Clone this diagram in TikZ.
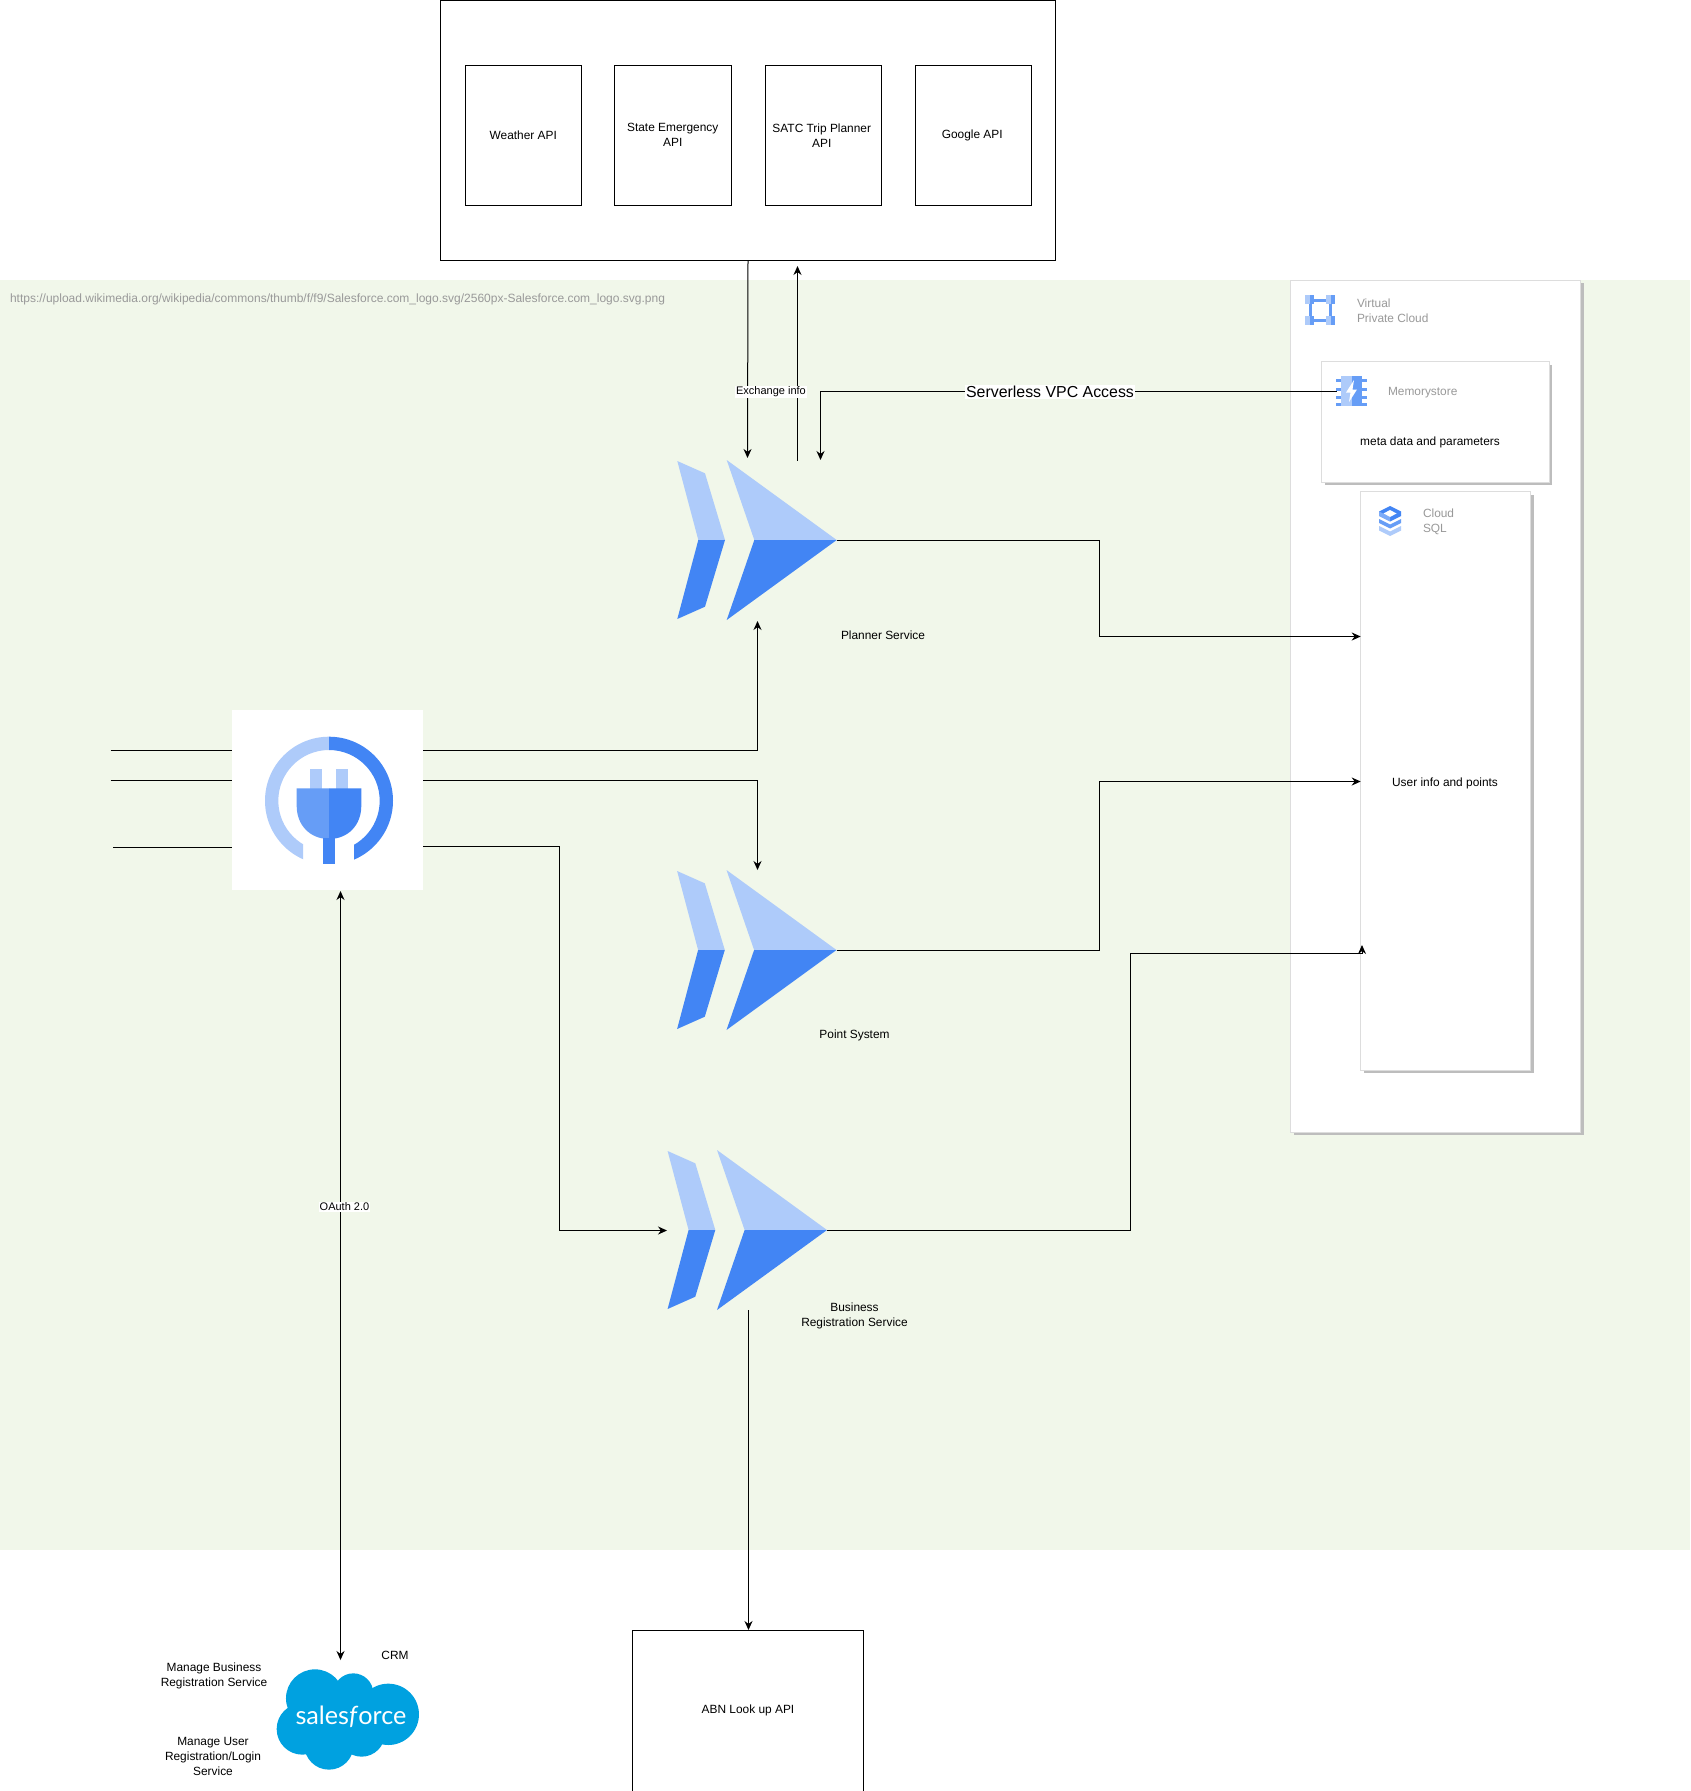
\documentclass[tikz,border=0pt]{standalone}
\usepackage{fontspec}
\setmainfont{Liberation Sans}
\newfontfamily\sflogo{Lato}
\usetikzlibrary{arrows.meta,calc}
\definecolor{bggreen}{HTML}{F1F7EA}
\definecolor{gblue}{HTML}{4285F4}
\definecolor{gmid}{HTML}{669DF6}
\definecolor{glight}{HTML}{AECBFA}
\definecolor{sfblue}{HTML}{00A1E0}
\definecolor{cardline}{HTML}{DDDDDD}
\definecolor{cardshadow}{HTML}{BDBDBD}
\definecolor{greytext}{HTML}{999999}
\tikzset{
  every node/.style={outer sep=0pt},
  txt/.style={font=\fontsize{11.9}{15}\selectfont,text=black,align=center,inner sep=0pt},
  gtxt/.style={font=\fontsize{11.9}{15}\selectfont,text=greytext,align=left,inner sep=0pt,anchor=west},
  box/.style={draw=black,line width=1pt,fill=none,font=\fontsize{11.9}{15}\selectfont,align=center,inner sep=2pt},
  conn/.style={draw=black,line width=1pt},
  tip/.style={-{Stealth[length=9pt,width=8pt]}},
  bothtip/.style={{Stealth[length=9pt,width=8pt]}-{Stealth[length=9pt,width=8pt]}},
  tag/.style={fill=bggreen,inner sep=1pt},
  whitetag/.style={fill=white,inner sep=1pt},
  svc/.style={minimum width=160pt,minimum height=160pt,inner sep=0pt,draw=none},
}
% box drawn by its corners: name, x1, y1, x2, y2, text
\newcommand{\cardbox}[5]{%
  \fill[cardshadow] (#2+3,#3+3) rectangle (#4+3,#5+3);
  \node[draw=cardline,line width=1pt,fill=white,inner sep=0pt,anchor=north west,
        minimum width=#4pt-#2pt,minimum height=#5pt-#3pt] (#1) at (#2,#3) {};
}
% cloud-run style mark with tip at (#2,#3)
\newcommand{\runmark}[3]{%
  \begin{scope}[shift={(#2,#3)}]
    \fill[glight] (-159.4,-79) -- (-131.7,-66.7) -- (-111.7,0) -- (-138.4,0) -- cycle;
    \fill[gblue] (-159.4,79) -- (-131.7,66.7) -- (-111.7,0) -- (-138.4,0) -- cycle;
    \fill[glight] (-110,-80) -- (0,0) -- (-82.4,0) -- cycle;
    \fill[gblue] (-110,80) -- (0,0) -- (-82.4,0) -- cycle;
    \node[svc,anchor=east] (#1) at (0,0) {};
  \end{scope}
}
\begin{document}
\begin{tikzpicture}[x=1pt,y=-1pt]
\useasboundingbox (0,0) rectangle (1690,1791);
\fill[white] (0,0) rectangle (1690,1791);
\fill[bggreen] (0,280) rectangle (1690,1550);
\node[anchor=west,inner sep=0pt,text=greytext,font=\fontsize{12}{15}\selectfont] (urltext) at (10,299.8)
  {https://upload.wikimedia.org/wikipedia/commons/thumb/f/f9/Salesforce.com\_logo.svg/2560px-Salesforce.com\_logo.svg.png};

% top group
\node[box,anchor=north west,minimum width=615.5pt,minimum height=260pt] (apis) at (440,0) {};
\node[box,anchor=north west,minimum width=116.5pt,minimum height=140.5pt] (weather) at (465,65) {Weather API};
\node[box,anchor=north west,minimum width=116.5pt,minimum height=140.5pt] (state) at (614.5,65) {State Emergency\\API};
\node[box,anchor=north west,minimum width=116.5pt,minimum height=140.5pt] (satc) at (765,65) {SATC Trip Planner\hspace*{3pt}\\API\hspace*{3pt}};
\node[box,anchor=north west,minimum width=116.5pt,minimum height=140.5pt] (google) at (915,65) {Google API\hspace*{2pt}};

% VPC cards
\cardbox{vpc}{1290.7}{280}{1580.7}{1132}
\cardbox{mem}{1321.7}{361.7}{1549}{482.3}
\cardbox{sql}{1360.7}{491.7}{1530.5}{1070}

% VPC icon
\begin{scope}[shift={(1305,295)}]
  \fill[gmid] (6,3.5) rectangle (24,6.5);
  \fill[gmid] (6,23.5) rectangle (24,26.5);
  \fill[gmid] (3.5,6) rectangle (6.5,24);
  \fill[gmid] (23.5,6) rectangle (26.5,24);
  \foreach \px/\py in {0/0,21/0,0/21,21/21}{
    \fill[glight] (\px,\py) rectangle ++(4.5,9);
    \fill[gmid] (\px+4.5,\py) rectangle ++(4.5,9);
  }
\end{scope}
\node[gtxt] (vpctext) at (1357,310.5) {Virtual\\Private Cloud};

% Memorystore icon
\begin{scope}[shift={(1336,376)}]
  \foreach \py in {3,11.5,20,27}{
    \fill[gmid] (0,\py) rectangle ++(5,3);
    \fill[gmid] (26,\py) rectangle ++(5,3);
  }
  \fill[glight] (5,0) rectangle (15.5,30);
  \fill[gmid] (15.5,0) rectangle (26,30);
  \fill[white] (18,4) -- (10,16.5) -- (14.5,16.5) -- (13,26) -- (21,13.5) -- (16.5,13.5) -- cycle;
\end{scope}
\node[gtxt] (memtext) at (1388,392.5) {Memorystore};
\node[txt] (metatext) at (1430,442) {meta data and parameters};

% SQL icon
\begin{scope}[shift={(1379,506)}]
  \fill[gblue] (11,0) -- (22,5.5) -- (22,10) -- (11,15.5) -- (0,10) -- (0,5.5) -- cycle;
  \fill[white] (11,4) -- (17.5,7.5) -- (11,11) -- (4.5,7.5) -- cycle;
  \fill[gmid] (0,13) -- (11,18.5) -- (22,13) -- (22,17) -- (11,22.5) -- (0,17) -- cycle;
  \fill[glight] (0,20) -- (11,25.5) -- (22,20) -- (22,24.5) -- (11,30) -- (0,24.5) -- cycle;
  \fill[glight,opacity=.55] (0,5.5) -- (11,11) -- (11,15.5) -- (0,10) -- cycle;
\end{scope}
\node[gtxt] (sqltext) at (1423,522) {Cloud\\SQL};
\node[txt] (usertext) at (1445,783) {User info and points};

% services
\runmark{planner}{836.7}{540}
\runmark{points}{836.5}{950}
\runmark{business}{827}{1230}
\node[txt] (plannerlabel) at (883,635.5) {Planner Service};
\node[txt] (pointslabel) at (854.5,1035.5) {Point System};
\node[txt] (businesslabel) at (854.5,1316) {Business\\Registration Service};

% API gateway
\node[fill=white,inner sep=0pt,anchor=north west,minimum width=191pt,minimum height=180pt] (gateway) at (232,710) {};
\begin{scope}
  \clip (260,730) -- (329,730) -- (329,800) -- (303,800) -- (303,875) -- (260,875) -- cycle;
  \fill[glight,even odd rule] (329,800.7) circle (64) (329,800.7) circle (50.7);
\end{scope}
\begin{scope}
  \clip (400,730) -- (329,730) -- (329,800) -- (354,800) -- (354,875) -- (400,875) -- cycle;
  \fill[gblue,even odd rule] (329,800.7) circle (64) (329,800.7) circle (50.7);
\end{scope}
\fill[glight] (310.3,769) rectangle (322.3,789);
\fill[glight] (335.7,769) rectangle (348,789);
\fill[gmid] (296.7,788.3) -- (329,788.3) -- (329,839) .. controls (310,839) and (296.7,825) .. (296.7,806) -- cycle;
\fill[gblue] (361.3,788.3) -- (329,788.3) -- (329,839) .. controls (348,839) and (361.3,825) .. (361.3,806) -- cycle;
\fill[gblue] (322.7,838) rectangle (335.3,864.3);

% salesforce
\begin{scope}[shift={(140,1630)},x=.3333pt,y=-.3333pt]
  \fill[sfblue] (525,205) circle (87);
  \fill[sfblue] (640,190) circle (60);
  \fill[sfblue] (745,253) circle (92);
  \fill[sfblue] (665,310) circle (70);
  \fill[sfblue] (567,345) circle (74);
  \fill[sfblue] (487,297) circle (77);
  \fill[sfblue] (600,260) circle (80);
\end{scope}
\node[inner sep=0pt,text=white,font=\sflogo\fontsize{25.2}{26}\selectfont] (sflogo) at (351,1717) {sales\textit{f}orce};
\node[inner sep=0pt,minimum width=140pt,minimum height=100pt] (salesforce) at (347,1720) {};
\node[txt] (crm) at (395,1655) {CRM};
\node[txt] (manageb) at (214,1676) {Manage Business\\Registration Service};
\node[txt] (manageu) at (213,1756) {Manage User\\Registration/Login\\Service};

% ABN box
\node[box,anchor=north west,minimum width=230.6pt,minimum height=161pt] (abn) at (632.7,1630) {ABN Look up API};

% free ends of connectors
\coordinate (leftA) at (110.7,750.5);
\coordinate (leftB) at (110.7,780.5);
\coordinate (leftC) at (113,847.5);
\coordinate (gwA) at (423,750.5);
\coordinate (gwB) at (423,780.5);
\coordinate (gwC) at (423,846.5);
\coordinate (plannerIn) at (757.5,621);
\coordinate (pointsIn) at (757.5,870);
\coordinate (exDown0) at (748,260);
\coordinate (exDown1) at (747.5,458);
\coordinate (exUp0) at (797.5,460.5);
\coordinate (exUp1) at (797.5,266);
\coordinate (vpcDown) at (820.5,460);
\coordinate (memIcon) at (1336.5,391.5);
\coordinate (oauthTop) at (340.5,891);
\coordinate (oauthBot) at (340.5,1660);
\coordinate (abnFrom) at (748.5,1310);
\coordinate (abnTo) at (748.5,1630);

% connectors
\draw[conn] (leftA) -- (leftA -| gateway.west);
\draw[conn] (leftB) -- (leftB -| gateway.west);
\draw[conn] (leftC) -- (leftC -| gateway.west);
\draw[conn,tip] (gwA) -| (plannerIn);
\draw[conn,tip] (gwB) -| (pointsIn);
\draw[conn,tip] (gwC) -- (559.5,846.5) -- (559.5,1230.5) -- (667,1230.5);
\draw[conn,tip] ([yshift=-.5pt]planner.east) -- (1099.5,540.5) -- (1099.5,636.5) -- (1360.7,636.5);
\draw[conn,tip] ([yshift=-.5pt]points.east) -- (1099.5,950.5) -- (1099.5,781.5) -- (1360.7,781.5);
\draw[conn] ([yshift=-.5pt]business.east) -- (1130.5,1230.5) -- (1130.5,953.5) -- (1362,953.5);
\draw[conn,tip] (1362,953.5) -- (1362,945);
\draw[conn,tip] (exDown0) -- (exDown1);
\draw[conn,tip] (exUp0) -- (exUp1);
\draw[conn,tip] (memIcon) -- (820.5,391.5) -- (vpcDown);
\draw[conn,bothtip] (oauthTop) -- (oauthBot);
\draw[conn,tip] (abnFrom) -- (abnTo);

% connector labels
\node[whitetag,font=\fontsize{11}{14}\selectfont] (exlabel) at (771,392) {Exchange info};
\node[whitetag,font=\fontsize{15.9}{18}\selectfont] (vpclabel) at (1050,392) {Serverless VPC Access};
\node[whitetag,font=\fontsize{11}{14}\selectfont] (oauthlabel) at (344.5,1207) {OAuth 2.0};
\end{tikzpicture}
\end{document}
